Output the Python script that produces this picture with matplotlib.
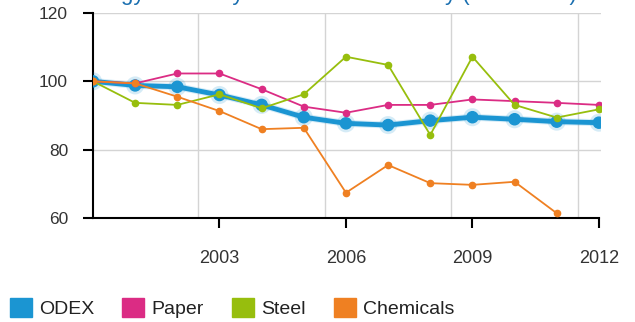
import matplotlib.pyplot as plt
import matplotlib.patheffects as pe
from matplotlib.patches import Patch

plt.rcParams["font.family"] = ["Liberation Sans", "DejaVu Sans"]

# Data (index, 2000 = 100)
years = [2000, 2001, 2002, 2003, 2004, 2005, 2006, 2007, 2008, 2009, 2010, 2011, 2012]
odex = [100, 98.8, 98.4, 96.0, 93.1, 89.5, 87.7, 87.2, 88.5, 89.5, 88.9, 88.2, 87.9]
paper = [100, 99.4, 102.3, 102.3, 97.7, 92.6, 90.8, 93.1, 93.1, 94.7, 94.2, 93.7, 93.1]
steel = [100, 93.7, 93.1, 96.2, 92.1, 96.2, 107.2, 104.8, 84.3, 107.2, 93.1, 89.4, 91.8]
chem_years = years[:-1]
chemicals = [100, 99.4, 95.5, 91.3, 86.0, 86.4, 67.4, 75.5, 70.2, 69.7, 70.6, 61.4]

x_ticks = [2003, 2006, 2009, 2012]
y_ticks = [60, 80, 100, 120]
grid_x = [2002.5, 2005.5, 2008.5, 2011.5]

labels = ["ODEX", "Paper", "Steel", "Chemicals"]
colors = ["#1b95d2", "#db2c84", "#97be0d", "#ef8022"]

fig = plt.figure(figsize=(6.35, 3.22), dpi=100)
ax = fig.add_axes([93 / 635, 1 - 218 / 322, 508 / 635, 205 / 322])

# ODEX thick with a soft halo, sectors thin
ax.plot(years, odex, color=colors[0], lw=3.5, marker="o", ms=8, zorder=3,
        path_effects=[pe.Stroke(linewidth=5, foreground=colors[0], alpha=0.18), pe.Normal()])
ax.plot(years, paper, color=colors[1], lw=1.3, marker="o", ms=4.5, zorder=4)
ax.plot(years, steel, color=colors[2], lw=1.3, marker="o", ms=4.5, zorder=5)
ax.plot(chem_years, chemicals, color=colors[3], lw=1.3, marker="o", ms=4.5, zorder=6)

ax.set_xlim(2000, 2012.05)
ax.set_ylim(60, 120)
ax.set_xticks(x_ticks)
ax.set_yticks(y_ticks)
ax.set_xticks(grid_x, minor=True)

ax.grid(axis="y", which="major", color="#d4d4d4", lw=1)
ax.grid(axis="x", which="minor", color="#d4d4d4", lw=1)
ax.tick_params(which="minor", length=0)
ax.tick_params(axis="y", length=7, width=1.5, pad=11, labelsize=12.5, labelcolor="#333333")
ax.tick_params(axis="x", length=7, width=1.5, pad=16, labelsize=13, labelcolor="#333333")

for side in ["top", "right"]:
    ax.spines[side].set_visible(False)
for side in ["left", "bottom"]:
    ax.spines[side].set_linewidth(1.5)
ax.spines["bottom"].set_bounds(2000, 2012)

# Title cut off at the top edge, as in the source image
fig.text(74 / 635, 1.0, "Energy efficiency index for the industry (2000=100)",
         color="#1a6fb0", fontsize=16, ha="left", va="baseline")

handles = [Patch(facecolor=c, edgecolor=c, label=l) for c, l in zip(colors, labels)]
fig.legend(handles=handles, loc="center left", bbox_to_anchor=(10 / 635, 1 - 308 / 322),
           ncol=4, frameon=False, fontsize=14, handlelength=1.13, handleheight=1.13,
           handletextpad=0.36, columnspacing=1.45, borderpad=0, borderaxespad=0,
           labelcolor="#222222")

plt.savefig("out.png", dpi=100)
